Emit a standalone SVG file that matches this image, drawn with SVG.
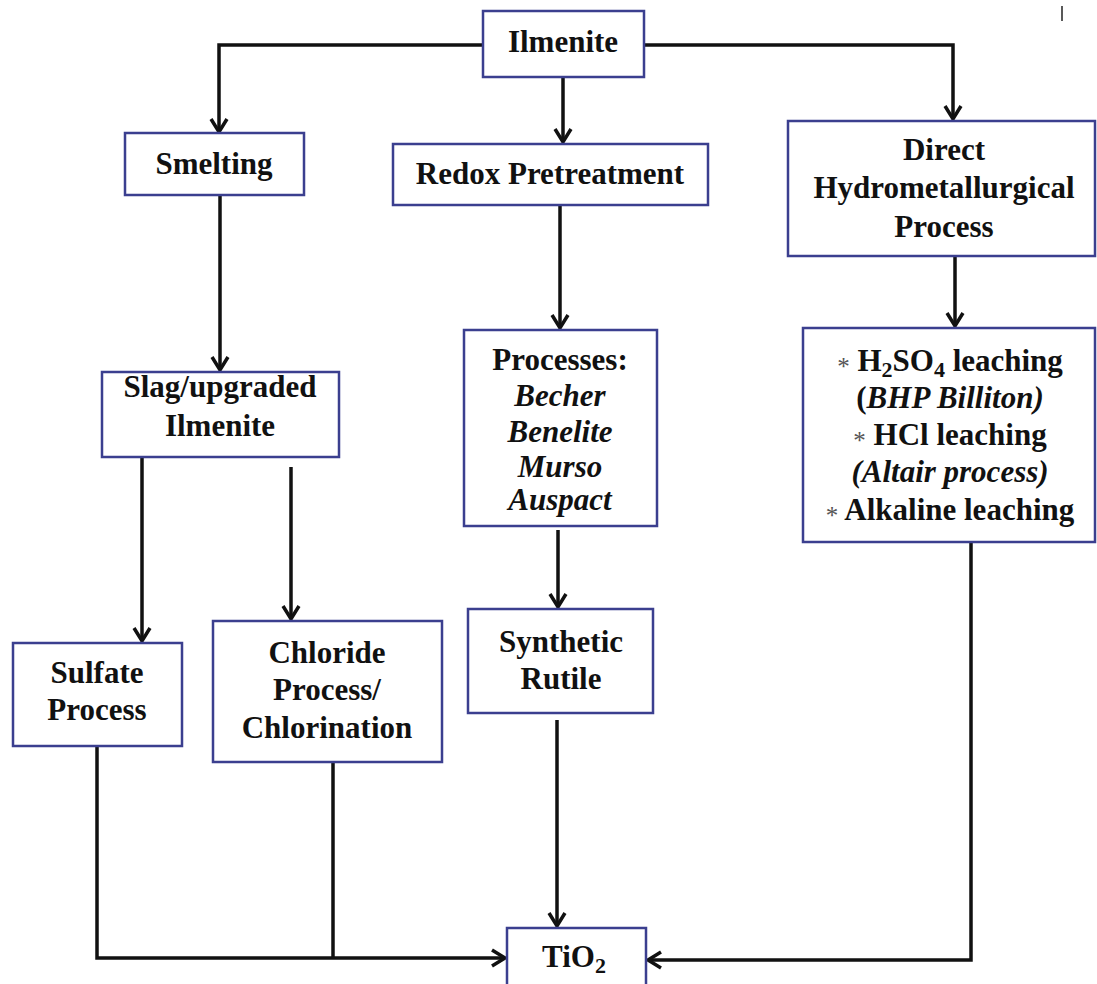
<svg xmlns="http://www.w3.org/2000/svg" width="1097" height="984" viewBox="0 0 1097 984">
  <style>
    .box { fill: #ffffff; stroke: #3b3f8f; stroke-width: 2.5; }
    .lbl { font-family: "Liberation Serif", "Times New Roman", serif; font-size: 31px; font-weight: bold; fill: #111; text-anchor: middle; }
    .it { font-style: italic; }
    .sub { font-size: 22px; }
    .ast { font-weight: normal; font-size: 25px; fill: #555; }
    .wire { fill: none; stroke: #111; stroke-width: 3.5; }
  </style>
  <defs>
    <marker id="arrow" viewBox="-16 -12 20 24" refX="0" refY="0" markerWidth="20" markerHeight="24" markerUnits="userSpaceOnUse" orient="auto">
      <path d="M-13,-8 L0,0 L-13,8" fill="none" stroke="#111" stroke-width="3.5" stroke-linejoin="miter"/>
    </marker>
  </defs>

  <rect width="1097" height="984" fill="#ffffff"/>

  <!-- connectors -->
  <g id="connectors">
    <path class="wire" d="M483,45 H219 V132" marker-end="url(#arrow)"/>
    <path class="wire" d="M644,45 H953 V119" marker-end="url(#arrow)"/>
    <path class="wire" d="M563,77 V142" marker-end="url(#arrow)"/>
    <path class="wire" d="M220,195 V370" marker-end="url(#arrow)"/>
    <path class="wire" d="M560,205 V328" marker-end="url(#arrow)"/>
    <path class="wire" d="M955,256 V326" marker-end="url(#arrow)"/>
    <path class="wire" d="M142,457 V641" marker-end="url(#arrow)"/>
    <path class="wire" d="M291,467 V619" marker-end="url(#arrow)"/>
    <path class="wire" d="M558,530 V607" marker-end="url(#arrow)"/>
    <path class="wire" d="M557,720 V926" marker-end="url(#arrow)"/>
    <path class="wire" d="M97,746 V958 H505" marker-end="url(#arrow)"/>
    <path class="wire" d="M333,762 V958"/>
    <path class="wire" d="M971,542 V960 H648" marker-end="url(#arrow)"/>
  </g>

  <!-- process nodes -->
  <g id="ilmenite">
    <rect class="box" x="483" y="11" width="161" height="66"/>
    <text class="lbl" x="563" y="52">Ilmenite</text>
  </g>

  <g id="smelting">
    <rect class="box" x="125" y="133" width="179" height="62"/>
    <text class="lbl" x="214" y="174">Smelting</text>
  </g>

  <g id="redox">
    <rect class="box" x="393" y="144" width="315" height="61"/>
    <text class="lbl" x="550" y="184">Redox Pretreatment</text>
  </g>

  <g id="direct-hydro">
    <rect class="box" x="788" y="121" width="307" height="135"/>
    <text class="lbl" x="944" y="160">Direct</text>
    <text class="lbl" x="944" y="198">Hydrometallurgical</text>
    <text class="lbl" x="944" y="237">Process</text>
  </g>

  <g id="slag">
    <rect class="box" x="102" y="372" width="237" height="85"/>
    <text class="lbl" x="220" y="397">Slag/upgraded</text>
    <text class="lbl" x="220" y="436">Ilmenite</text>
  </g>

  <g id="processes">
    <rect class="box" x="464" y="330" width="193" height="196"/>
    <text class="lbl" x="560" y="370">Processes:</text>
    <text class="lbl it" x="560" y="406">Becher</text>
    <text class="lbl it" x="560" y="442">Benelite</text>
    <text class="lbl it" x="560" y="477">Murso</text>
    <text class="lbl it" x="560" y="510">Auspact</text>
  </g>

  <g id="leaching">
    <rect class="box" x="803" y="328" width="292" height="214"/>
    <text class="lbl" x="950" y="371" font-size="32"><tspan class="ast" dy="4">*</tspan><tspan dy="-4"> H</tspan><tspan class="sub" dy="6">2</tspan><tspan dy="-6">SO</tspan><tspan class="sub" dy="6">4</tspan><tspan dy="-6"> leaching</tspan></text>
    <text class="lbl" x="950" y="408">(<tspan class="it">BHP Billiton)</tspan></text>
    <text class="lbl" x="950" y="445"><tspan class="ast" dy="4">*</tspan><tspan dy="-4"> HCl leaching</tspan></text>
    <text class="lbl it" x="950" y="482">(Altair process)</text>
    <text class="lbl" x="950" y="520"><tspan class="ast" dy="4">*</tspan><tspan dy="-4"> Alkaline leaching</tspan></text>
  </g>

  <g id="sulfate">
    <rect class="box" x="13" y="643" width="169" height="103"/>
    <text class="lbl" x="97" y="683">Sulfate</text>
    <text class="lbl" x="97" y="720">Process</text>
  </g>

  <g id="chloride">
    <rect class="box" x="213" y="621" width="229" height="141"/>
    <text class="lbl" x="327" y="663">Chloride</text>
    <text class="lbl" x="327" y="700">Process/</text>
    <text class="lbl" x="327" y="738">Chlorination</text>
  </g>

  <g id="synthetic-rutile">
    <rect class="box" x="468" y="609" width="185" height="104"/>
    <text class="lbl" x="561" y="652">Synthetic</text>
    <text class="lbl" x="561" y="689">Rutile</text>
  </g>

  <g id="tio2">
    <rect class="box" x="507" y="928" width="139" height="64"/>
    <text class="lbl" x="574" y="967">TiO<tspan class="sub" dy="6">2</tspan></text>
  </g>

  <!-- small tick near the top right corner -->
  <line x1="1062" y1="6" x2="1062" y2="21" stroke="#222" stroke-width="1.5"/>
</svg>
